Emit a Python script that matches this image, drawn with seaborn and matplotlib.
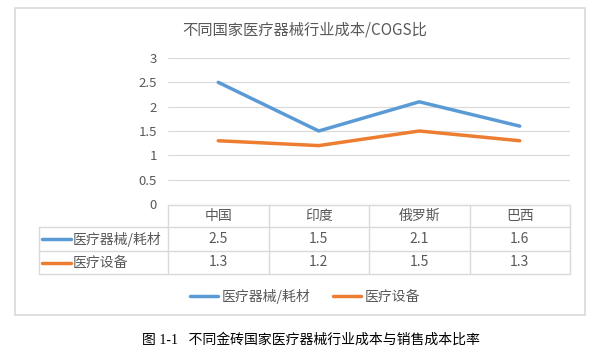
import pandas as pd
import seaborn as sns
import matplotlib.pyplot as plt
from matplotlib.lines import Line2D
from matplotlib.patches import Rectangle
import matplotlib.transforms as mtransforms

# data
countries = ["中国", "印度", "俄罗斯", "巴西"]
series_names = ["医疗器械/耗材", "医疗设备"]
consumables = [2.5, 1.5, 2.1, 1.6]
equipment = [1.3, 1.2, 1.5, 1.3]
yticks = [0, 0.5, 1, 1.5, 2, 2.5, 3]
ytick_labels = ["0", "0.5", "1", "1.5", "2", "2.5", "3"]
title = "不同国家医疗器械行业成本/COGS比"
caption = "图 1-1   不同金砖国家医疗器械行业成本与销售成本比率"

colors = ["#5B9BD5", "#ED7D31"]
grey = "#595959"
grid = "#D9D9D9"

sns.set_style("white")
plt.rcParams['font.family'] = ['Noto Sans CJK SC', 'DejaVu Sans']

df = pd.DataFrame({
    "x": list(range(len(countries))) * 2,
    "value": consumables + equipment,
    "series": [series_names[0]] * 4 + [series_names[1]] * 4,
})

W, H = 602, 358
fig = plt.figure(figsize=(W / 100, H / 100), dpi=100)
fig.patch.set_facecolor("white")

def fx(px):
    return px / W

def fy(py):
    return 1 - py / H

ax = fig.add_axes([fx(168), fy(204), fx(570) - fx(168), fy(58) - fy(204)])
sns.lineplot(data=df, x="x", y="value", hue="series", palette=colors,
             linewidth=2.5, ax=ax, legend=False)
ax.set_xlim(-0.5, len(countries) - 0.5)
ax.set_ylim(0, 3)
ax.set_yticks(yticks)
ax.set_yticklabels(ytick_labels, color=grey, fontsize=9.5)
ax.set_xticks([])
ax.set_xlabel("")
ax.set_ylabel("")
ax.tick_params(axis='y', length=0, pad=8)
for s in ax.spines.values():
    s.set_visible(False)
ax.yaxis.grid(True, color=grid, linewidth=0.8)
ax.set_axisbelow(True)

# chart box
fig.add_artist(Rectangle((fx(15), fy(315)), fx(585) - fx(15), fy(8) - fy(315),
                         transform=fig.transFigure, fill=False,
                         edgecolor=grid, linewidth=1.2))
fig.text(fx(305), fy(30), title, ha='center', va='center',
         color=grey, fontsize=11)

# data table under the plot
tr = mtransforms.blended_transform_factory(ax.transData, fig.transFigure)
row_y = [fy(205), fy(227), fy(251), fy(274)]
x0, x1 = -0.5, len(countries) - 0.5
label_left = fx(39)
lkw = dict(color=grid, linewidth=1.0)
fig.add_artist(Line2D([x0, x1], [row_y[0]] * 2, transform=tr, **lkw))
for yy in row_y[1:]:
    fig.add_artist(Line2D([label_left, fx(168)], [yy] * 2, transform=fig.transFigure, **lkw))
    fig.add_artist(Line2D([x0, x1], [yy] * 2, transform=tr, **lkw))
fig.add_artist(Line2D([label_left] * 2, [row_y[1], row_y[3]], transform=fig.transFigure, **lkw))
for i in range(len(countries) + 1):
    fig.add_artist(Line2D([i - 0.5] * 2, [row_y[0], row_y[3]], transform=tr, **lkw))

for i, c in enumerate(countries):
    fig.text(i, (row_y[0] + row_y[1]) / 2, c, transform=tr, ha='center',
             va='center', color=grey, fontsize=10)
for r, vals in enumerate([consumables, equipment]):
    yc = (row_y[r + 1] + row_y[r + 2]) / 2
    fig.add_artist(Line2D([fx(42), fx(71)], [yc, yc], transform=fig.transFigure,
                          color=colors[r], linewidth=2.5))
    fig.text(fx(73), yc, series_names[r], ha='left', va='center',
             color=grey, fontsize=10)
    for i, v in enumerate(vals):
        fig.text(i, yc, f"{v:g}", transform=tr, ha='center', va='center',
                 color=grey, fontsize=10)

# legend
handles = [Line2D([], [], color=colors[k], linewidth=2.5) for k in range(2)]
fig.legend(handles, series_names, loc='center', bbox_to_anchor=(fx(305), fy(296)),
           ncol=2, frameon=False, fontsize=10, handlelength=2.0,
           handletextpad=0.3, columnspacing=1.6, labelcolor=grey)

fig.text(fx(311), fy(340), caption, ha='center', va='center', color='black',
         fontsize=10, family=['Liberation Serif', 'Noto Sans CJK SC'])

fig.savefig("out.png", dpi=100, facecolor="white")
